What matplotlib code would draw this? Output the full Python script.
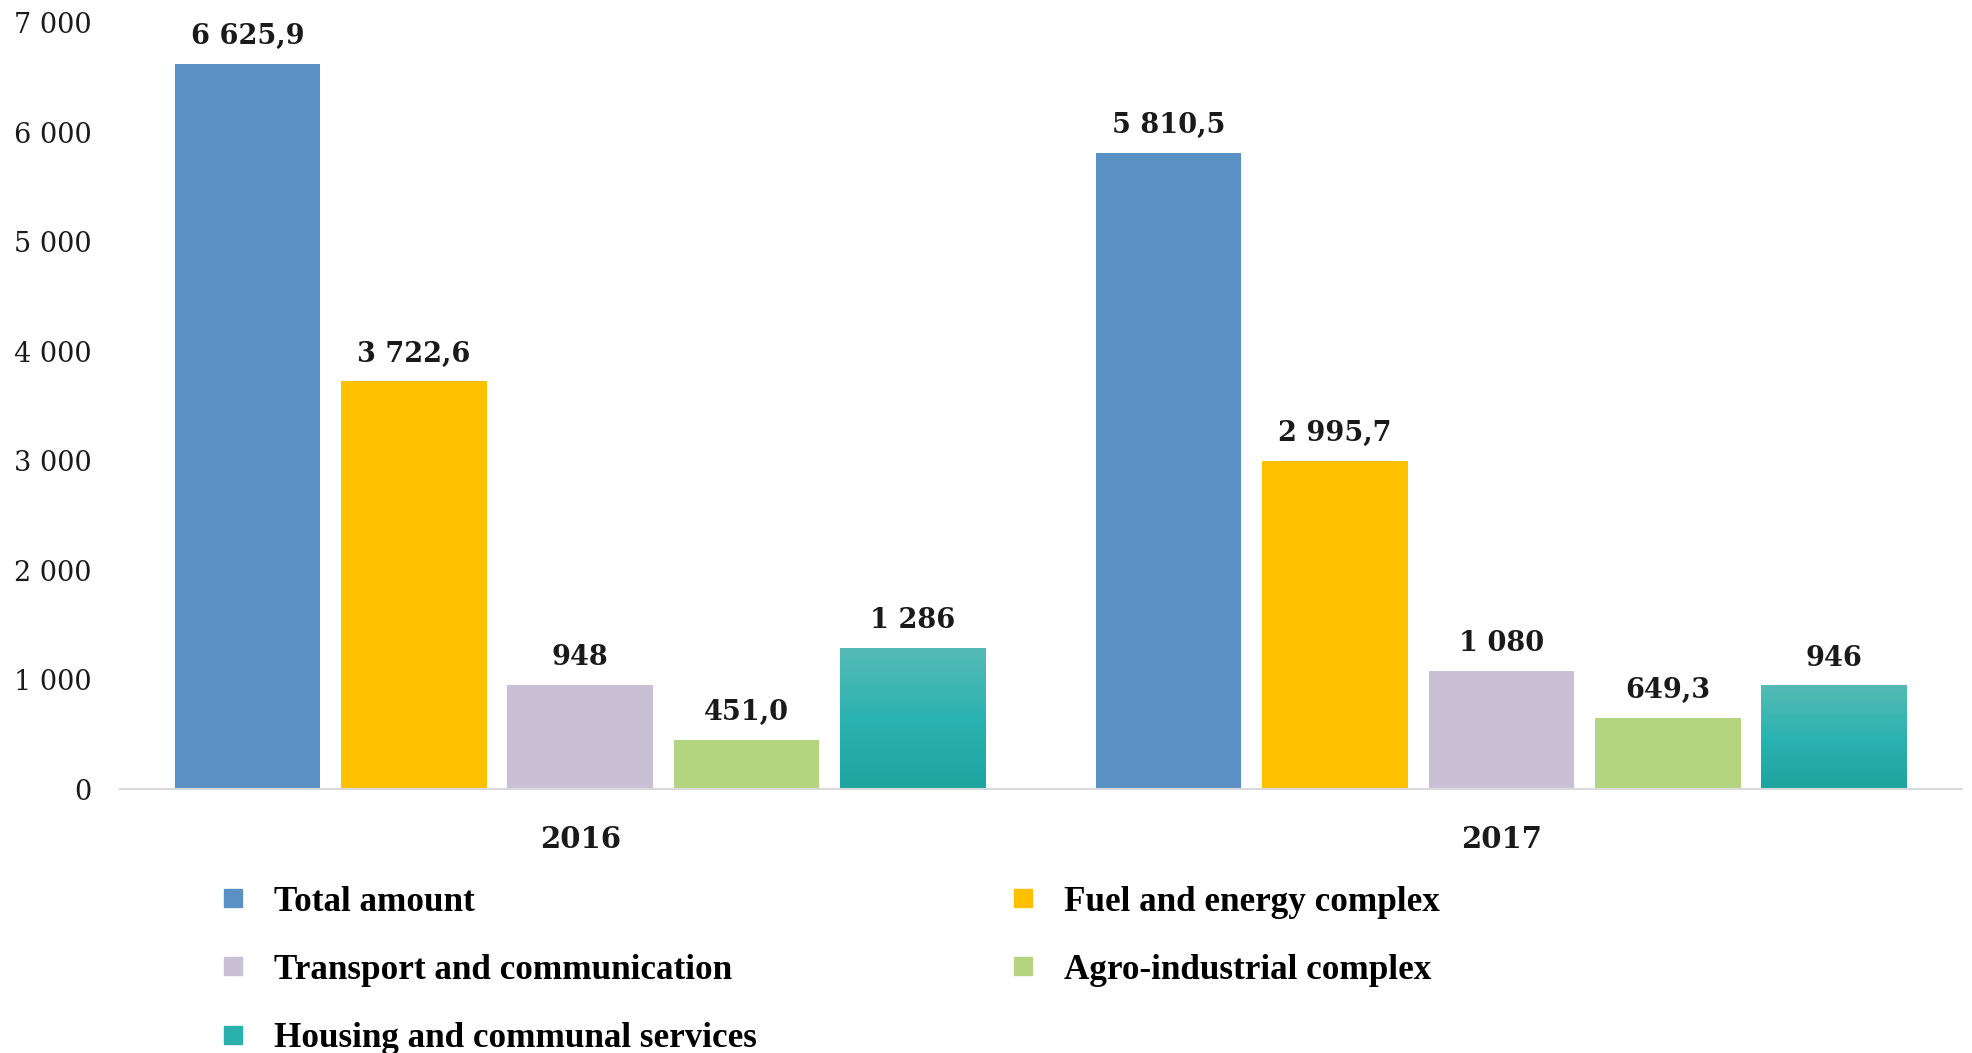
import numpy as np
import matplotlib
matplotlib.use("Agg")
import matplotlib.pyplot as plt
from matplotlib.colors import LinearSegmentedColormap
from matplotlib.lines import Line2D
from matplotlib.ticker import FuncFormatter

# Investments by sector, 2016 vs 2017
years = ["2016", "2017"]
sectors = ["Total amount", "Fuel and energy complex", "Transport and communication",
           "Agro-industrial complex", "Housing and communal services"]
values_2016 = [6625.9, 3722.6, 948, 451.0, 1286]
values_2017 = [5810.5, 2995.7, 1080, 649.3, 946]
decimals = [1, 1, 0, 1, 0]
colors = ["#5A91C5", "#FFC000", "#C9C0D6", "#B4D580", "#2AB1AE"]
yticks = [0, 1000, 2000, 3000, 4000, 5000, 6000, 7000]


def fmt_num(v, d):
    s = f"{v:,.{d}f}"
    return s.replace(",", " ").replace(".", ",")


fig = plt.figure(figsize=(19.72, 10.53), dpi=100)
ax = fig.add_axes([0.0606, 0.2507, 0.9344, 0.7278])

x = np.arange(len(years))
step = 0.1806
width = 0.158
teal_cmap = LinearSegmentedColormap.from_list("teal", ["#1EA49F", "#2BB3B1", "#55BAB5"])
grad = np.linspace(0, 1, 256).reshape(-1, 1)

data = np.array([values_2016, values_2017])
for i, name in enumerate(sectors):
    pos = x + (i - 2) * step
    vals = data[:, i]
    bars = ax.bar(pos, vals, width, color=colors[i], label=name, zorder=2)
    if i == 4:
        # vertical gradient fill for the housing bars
        for b in bars:
            b.set_alpha(0)
            x0, h = b.get_x(), b.get_height()
            ax.imshow(grad, cmap=teal_cmap, origin="lower", aspect="auto",
                      extent=[x0, x0 + width, 0, h], zorder=2)
    for p, v in zip(pos, vals):
        ax.annotate(fmt_num(v, decimals[i]), (p, v), xytext=(0, 10),
                    textcoords="offset points", ha="center", va="bottom",
                    fontsize=19.5, fontweight="bold", family="DejaVu Serif",
                    color="#1a1a1a")

ax.set_xlim(-0.5, 1.5)
ax.set_ylim(0, 7000)
ax.set_yticks(yticks)
ax.yaxis.set_major_formatter(FuncFormatter(lambda v, _: fmt_num(v, 0)))
ax.set_xticks(x)
ax.set_xticklabels(years, fontsize=21, fontweight="bold", family="DejaVu Serif")
for lab in ax.get_yticklabels():
    lab.set_family("DejaVu Serif")
    lab.set_fontsize(19.5)
ax.tick_params(axis="y", length=0, pad=20, colors="#1a1a1a")
ax.tick_params(axis="x", length=0, pad=26, colors="#1a1a1a")

for s in ["top", "right", "left"]:
    ax.spines[s].set_visible(False)
ax.spines["bottom"].set_color("#D9D9D9")
ax.spines["bottom"].set_linewidth(1.5)

# legend: row-major order with two columns
order = [0, 2, 4, 1, 3]
handles = [Line2D([], [], marker="s", linestyle="none", markersize=13,
                  markerfacecolor=colors[k], markeredgecolor=colors[k]) for k in order]
labels = [sectors[k] for k in order]
fig.legend(handles, labels, loc="upper left", bbox_to_anchor=(205 / 1972, 1 - 868 / 1053),
           ncol=2, frameon=False, borderpad=0, handlelength=0.6, handletextpad=0.85,
           columnspacing=7.3, labelspacing=1.0,
           prop={"family": "Liberation Serif", "weight": "bold", "size": 25.3})

fig.savefig("out.png", dpi=100)
